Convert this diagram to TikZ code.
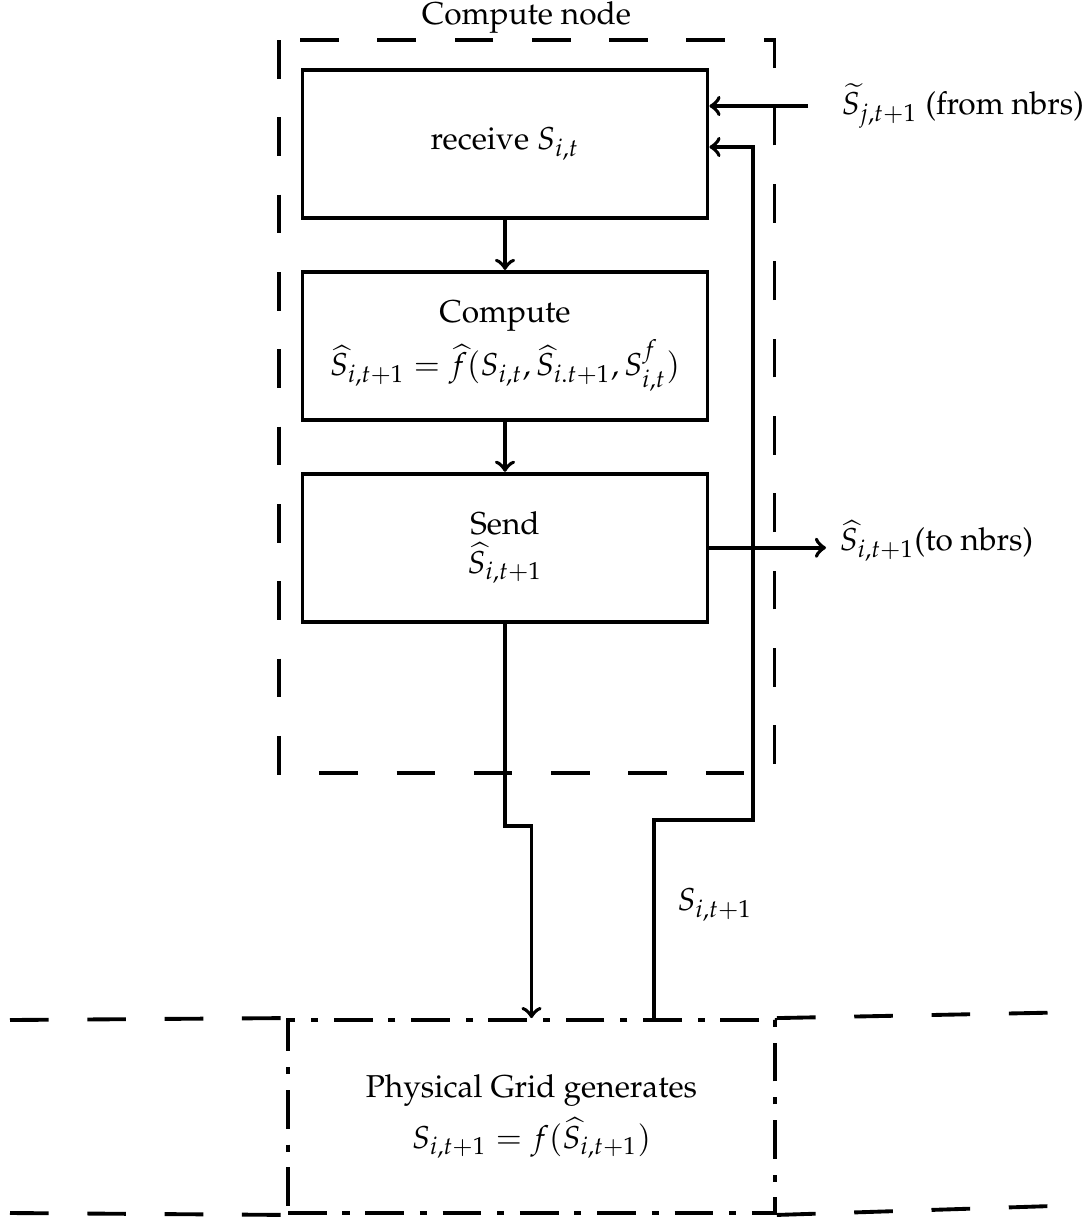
\documentclass[tikz,border=0pt]{standalone}
\usepackage[T1]{fontenc}
\usepackage{mathpazo}
\usetikzlibrary{positioning, calc}

\begin{document}
\begin{tikzpicture}[
    >=to, node distance=5mm, line width=1.1pt,
    box/.style={rectangle, draw, line width=1.1pt,
                minimum width=40.5mm, minimum height=14.8mm,
                align=center, font=\small},
    lbl/.style={font=\small},
    arrow/.style={->, line width=1.1pt},
    outer/.style={line width=1.1pt, dash pattern=on 11pt off 11pt},
    gridline/.style={dash pattern=on 11pt off 4.5pt on 2pt off 4.5pt}
]
  \useasboundingbox (0,0) rectangle (10.83,-12.18);

  % compute node: three steps
  \node[box] (recv) at (5.05,-1.44) {receive $S_{i,t}$};
  \node[box, below=of recv] (comp) {Compute\\[0.5mm] $\widehat{S}_{i,t+1} = \widehat{f}(S_{i,t}, \widehat{S}_{i.t+1}, S^{f}_{i,t})$};
  \node[box, below=of comp] (send) {Send\\ $\widehat{S}_{i,t+1}$};

  \coordinate (cn-nw) at ($(recv.north west)+(-0.22,0.28)$);
  \coordinate (cn-se) at ($(send.south east)+(0.65,-1.49)$);
  \draw[outer] (cn-nw) rectangle (cn-se);
  \node[lbl, anchor=base] (cntitle) at ($(cn-nw)!0.5!(cn-se |- cn-nw)+(0,0.16)$) {Compute node};

  % physical grid
  \node[box, gridline, minimum width=48.7mm, minimum height=19.3mm] (grid) at (5.315,-11.165)
       {Physical Grid generates\\[0.8mm] $S_{i,t+1} = f(\widehat{S}_{i,t+1})$};
  \coordinate (gl-top) at (0.1,-10.20);
  \coordinate (gl-bot) at (0.1,-12.13);
  \coordinate (gr-top) at (10.83,-10.12);
  \coordinate (gr-bot) at (10.83,-12.05);
  \draw[outer] (gl-top) -- (grid.north west);
  \draw[outer] (gl-bot) -- (grid.south west);
  \draw[outer] (grid.north east) -- (gr-top);
  \draw[outer] (grid.south east) -- (gr-bot);

  % neighbours
  \coordinate (in) at (8.08,-1.06);
  \node[lbl, right=2mm of in] (fromnbrs) {$\widetilde{S}_{j,t+1}$ (from nbrs)};
  \node[lbl, anchor=west] (tonbrs) at (8.26,-5.41) {$\widehat{S}_{i,t+1}$(to nbrs)};

  \draw[arrow] (in) -- (recv.east |- in);
  \draw[arrow] (recv) -- (comp);
  \draw[arrow] (comp) -- (send);
  \draw[arrow] (send.east) -- (send.east -| tonbrs.west);

  % loop through the grid
  \draw[arrow] (send.south) -- ++(0,-2.02) -| (grid.north);
  \coordinate (fb) at ($(grid.north)+(1.225,0)$);
  \coordinate (fbturn) at (7.53,-8.20);
  \draw[arrow] (fb) |- (fbturn) |- ([yshift=-0.3mm]recv.east);
  \node[lbl] (sfb) at (7.15,-9.05) {$S_{i,t+1}$};
\end{tikzpicture}
\end{document}
